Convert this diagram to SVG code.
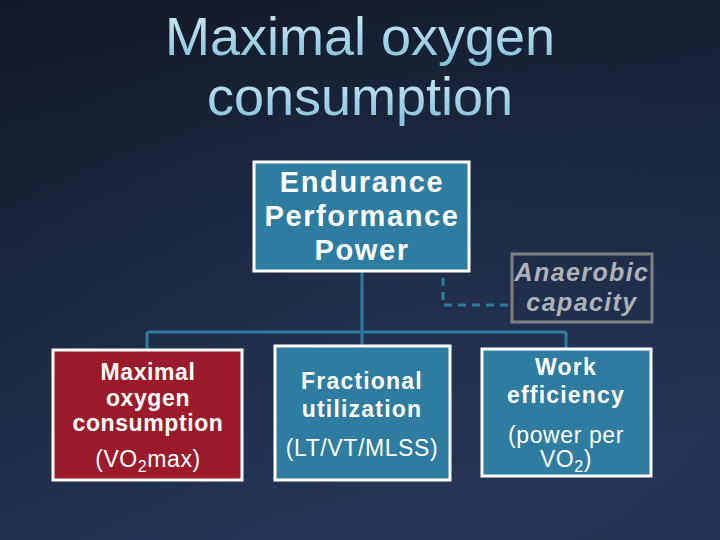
<svg xmlns="http://www.w3.org/2000/svg" width="720" height="540" viewBox="0 0 720 540">
<defs>
<linearGradient id="bg" x1="0" y1="0" x2="0.3" y2="1">
<stop offset="0" stop-color="#121827"/>
<stop offset="0.55" stop-color="#1b2740"/>
<stop offset="1" stop-color="#223355"/>
</linearGradient>
<radialGradient id="glow" cx="0.55" cy="0.6" r="0.6">
<stop offset="0" stop-color="#2a3a5a" stop-opacity="0.35"/>
<stop offset="1" stop-color="#2a3a5a" stop-opacity="0"/>
</radialGradient>
<linearGradient id="tg" x1="0" y1="0" x2="0" y2="1">
<stop offset="0" stop-color="#d6edf5"/>
<stop offset="1" stop-color="#7fc0dc"/>
</linearGradient>
</defs>
<style>
.title{font-family:"Liberation Sans",Arial,sans-serif;font-size:54px;fill:url(#tg);text-anchor:middle}
.box{fill:#2e7ca0;stroke:#ffffff;stroke-width:3}
.red{fill:#9b1b2a;stroke:#ffffff;stroke-width:3}
.gbox{fill:none;stroke:#808080;stroke-width:3}
.t{font-family:"Liberation Sans",Arial,sans-serif;fill:#ffffff;text-anchor:middle}
.big{font-size:29px;font-weight:bold;letter-spacing:1.6px}
.b{font-size:23px;font-weight:bold;letter-spacing:1.2px}
.bl{font-size:23px;font-weight:bold;letter-spacing:0.6px}
.r{font-size:23px;letter-spacing:0.6px}
.an{font-family:"Liberation Sans",Arial,sans-serif;font-size:25px;font-weight:bold;font-style:italic;fill:#aeb2b6;text-anchor:middle;letter-spacing:1.4px}
.c{fill:none;stroke:#2e7ca0;stroke-width:3}
.d{fill:none;stroke:#2e7ca0;stroke-width:3;stroke-dasharray:8 6}
</style>
<rect width="720" height="540" fill="url(#bg)"/>
<rect width="720" height="540" fill="url(#glow)"/>
<g id="title">
<text class="title" x="360" y="55">Maximal oxygen</text>
<text class="title" x="360" y="115">consumption</text>
</g>
<g id="connectors">
<path class="c" d="M362 271 V346 M147 332 H566 M147 332 V350 M566 332 V349"/>
<path class="d" d="M443 278 V305 H512"/>
</g>
<g id="endurance">
<rect class="box" x="254" y="162" width="215" height="109"/>
<text class="t big" x="362" y="192">Endurance</text>
<text class="t big" x="362" y="226">Performance</text>
<text class="t big" x="362" y="260">Power</text>
</g>
<g id="anaerobic">
<rect class="gbox" x="512" y="254" width="140" height="68"/>
<text class="an" x="582" y="281">Anaerobic</text>
<text class="an" x="582" y="311">capacity</text>
</g>
<g id="vo2max">
<rect class="red" x="53" y="350" width="189" height="130"/>
<text class="t bl" x="148" y="380">Maximal</text>
<text class="t bl" x="148" y="406">oxygen</text>
<text class="t bl" x="148" y="431">consumption</text>
<text class="t r" x="148" y="467">(VO<tspan font-size="16" dy="5">2</tspan><tspan dy="-5">max)</tspan></text>
</g>
<g id="fractional">
<rect class="box" x="275" y="346" width="175" height="134"/>
<text class="t b" x="362" y="389">Fractional</text>
<text class="t b" x="362" y="417">utilization</text>
<text class="t r" x="362" y="456">(LT/VT/MLSS)</text>
</g>
<g id="efficiency">
<rect class="box" x="482" y="349" width="169" height="127"/>
<text class="t b" x="566" y="375">Work</text>
<text class="t b" x="566" y="403">efficiency</text>
<text class="t r" x="566" y="443">(power per</text>
<text class="t r" x="566" y="467">VO<tspan font-size="16" dy="5">2</tspan><tspan dy="-5">)</tspan></text>
</g>
</svg>
